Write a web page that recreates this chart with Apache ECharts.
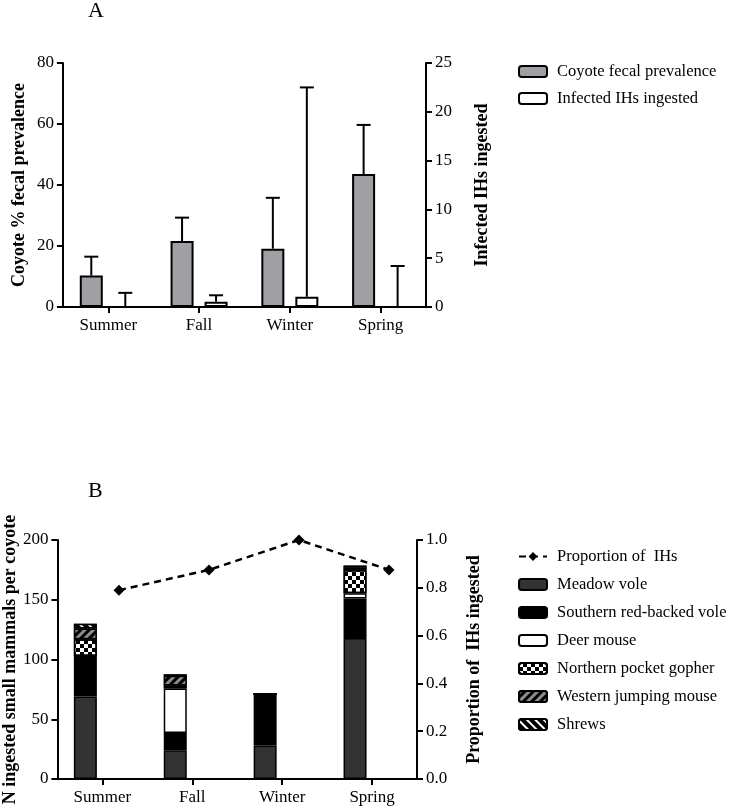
<!DOCTYPE html>
<html>
<head>
<meta charset="utf-8">
<script src="https://cdn.jsdelivr.net/npm/echarts@6/dist/echarts.min.js"></script>
<style>
  html, body { margin: 0; padding: 0; background: #fff; }
  #chart { width: 730px; height: 809px; }
</style>
</head>
<body>
<div id="chart"></div>
<script>
// panel A
const seasons = ['Summer', 'Fall', 'Winter', 'Spring']
const fecalPrevalence = [10.3, 21.6, 19.1, 43.6]
const fecalPrevalenceErr = [6.2, 7.7, 16.7, 16.1]
const infectedIH = [0, 0.55, 1.05, 0]
const infectedIHErr = [1.45, 0.65, 21.45, 4.2]

// panel B
const meadowVole = [69, 24, 28, 118]
const redBackedVole = [34, 14.5, 43, 33]
const deerMouse = [0, 37.3, 0, 4.5]
const pocketGopher = [14, 2.5, 0, 19.5]
const jumpingMouse = [9, 8, 0, 2]
const shrews = [4, 1.3, 0, 1.6]
const propIH = [0.79, 0.875, 1.0, 0.875]

const FONT = 'Liberation Serif'
const BAR_W = 23
const BAR_GAP = 11
const OFF = (BAR_W + BAR_GAP) / 2
const CAP = 7

const chart = echarts.init(document.getElementById('chart'))

const axisLine = { show: true, lineStyle: { color: '#000', width: 2 } }
const axisTick = { show: true, length: 6, lineStyle: { color: '#000', width: 2 } }
const axisLabel = { color: '#000', fontFamily: FONT, fontSize: 17 }
const nameStyle = { color: '#000', fontFamily: FONT, fontSize: 18, fontWeight: 'bold' }
const legendText = { color: '#000', fontFamily: FONT, fontSize: 16.5, padding: [0, 0, 0, 5] }

const errRender = (offset) => (params, api) => {
  const i = api.value(0)
  const v = api.value(1)
  const e = api.value(2)
  const p0 = api.coord([i, v])
  const p1 = api.coord([i, v + e])
  const x = p0[0] + offset
  const style = { stroke: '#000', lineWidth: 2 }
  return {
    type: 'group',
    children: [
      { type: 'line', shape: { x1: x, y1: p0[1], x2: x, y2: p1[1] }, style },
      { type: 'line', shape: { x1: x - CAP, y1: p1[1], x2: x + CAP, y2: p1[1] }, style },
    ],
  }
}

const segStyle = (color, decal) => {
  const s = { color, borderColor: '#000', borderWidth: 1.5 }
  if (decal) s.decal = decal
  return s
}

const checker = {
  color: '#000', symbol: 'rect', symbolSize: 1,
  dashArrayX: [[4, 4], [0, 4, 4, 0]], dashArrayY: [4, 0],
}
const grayStripes = {
  color: '#8c8c8c', symbol: 'rect', symbolSize: 1,
  dashArrayX: [1, 0], dashArrayY: [3, 3], rotation: -Math.PI / 4,
}
const whiteStripes = {
  color: '#fff', symbol: 'rect', symbolSize: 1,
  dashArrayX: [1, 0], dashArrayY: [2, 4], rotation: Math.PI / 4,
}

const stackSeries = [
  ['Meadow vole', meadowVole, segStyle('#333333')],
  ['Southern red-backed vole', redBackedVole, segStyle('#000000')],
  ['Deer mouse', deerMouse, segStyle('#ffffff')],
  ['Northern pocket gopher', pocketGopher, segStyle('#ffffff', checker)],
  ['Western jumping mouse', jumpingMouse, segStyle('#000000', grayStripes)],
  ['Shrews', shrews, segStyle('#000000', whiteStripes)],
].map(([name, data, itemStyle]) => ({
  name,
  type: 'bar',
  xAxisIndex: 1,
  yAxisIndex: 2,
  stack: 'mammals',
  barWidth: BAR_W,
  barGap: `${(BAR_GAP / BAR_W) * 100}%`,
  itemStyle,
  data,
}))

const option = {
  animation: false,
  backgroundColor: '#fff',
  graphic: [
    { type: 'text', left: 88, top: 0, style: { text: 'A', font: '22px "Liberation Serif"', fill: '#000' } },
    { type: 'text', left: 88, top: 480, style: { text: 'B', font: '22px "Liberation Serif"', fill: '#000' } },
  ],
  legend: [
    {
      left: 513, top: 58, orient: 'vertical', itemWidth: 28, itemHeight: 11, itemGap: 10,
      icon: 'roundRect',
      itemStyle: { borderColor: '#000', borderWidth: 2 },
      textStyle: legendText,
      data: ['Coyote fecal prevalence', 'Infected IHs ingested'],
    },
    {
      left: 513, top: 543, orient: 'vertical', itemWidth: 28, itemHeight: 11, itemGap: 11,
      textStyle: legendText,
      data: [
        { name: 'Proportion of  IHs' },
        ...stackSeries.map((s) => ({ name: s.name, icon: 'roundRect', itemStyle: { borderColor: '#000', borderWidth: 2 } })),
      ],
    },
  ],
  grid: [
    { left: 57, right: 304, top: 63, bottom: 502 },
    { left: 57, right: 313, top: 540, bottom: 30 },
    { left: 57 + OFF, right: 313 - OFF, top: 540, bottom: 30 },
  ],
  xAxis: [
    {
      type: 'category', gridIndex: 0, data: seasons,
      axisLine, axisTick: { ...axisTick, alignWithLabel: true }, axisLabel: { ...axisLabel, margin: 10 },
    },
    {
      type: 'category', gridIndex: 1, data: seasons,
      axisLine, axisTick: { ...axisTick, alignWithLabel: true }, axisLabel: { ...axisLabel, margin: 10 },
    },
    { type: 'category', gridIndex: 2, data: seasons, show: false },
  ],
  yAxis: [
    {
      type: 'value', gridIndex: 0, min: 0, max: 80, interval: 20,
      name: 'Coyote % fecal prevalence', nameLocation: 'middle', nameGap: 35, nameTextStyle: nameStyle,
      axisLine, axisTick, axisLabel: { ...axisLabel, margin: 9 }, splitLine: { show: false },
    },
    {
      type: 'value', gridIndex: 0, min: 0, max: 25, interval: 5, position: 'right',
      name: 'Infected IHs ingested', nameLocation: 'middle', nameGap: 47, nameTextStyle: nameStyle,
      axisLine, axisTick, axisLabel: { ...axisLabel, margin: 9 }, splitLine: { show: false },
    },
    {
      type: 'value', gridIndex: 1, min: 0, max: 200, interval: 50,
      name: 'N ingested small mammals per coyote', nameLocation: 'middle', nameGap: 36, nameTextStyle: nameStyle,
      axisLine, axisTick, axisLabel: { ...axisLabel, margin: 9 }, splitLine: { show: false },
    },
    {
      type: 'value', gridIndex: 1, min: 0, max: 1, interval: 0.2, position: 'right',
      name: 'Proportion of  IHs ingested', nameLocation: 'middle', nameGap: 48, nameTextStyle: nameStyle,
      axisLine, axisTick, axisLabel: { ...axisLabel, margin: 9, formatter: (v) => v.toFixed(1) }, splitLine: { show: false },
    },
    { type: 'value', gridIndex: 2, min: 0, max: 1, show: false },
  ],
  series: [
    {
      name: 'Coyote fecal prevalence', type: 'bar', xAxisIndex: 0, yAxisIndex: 0,
      barWidth: BAR_W, barGap: `${(BAR_GAP / BAR_W) * 100}%`,
      itemStyle: { color: '#a0a0a4', borderColor: '#000', borderWidth: 2 },
      data: fecalPrevalence,
    },
    {
      name: 'Infected IHs ingested', type: 'bar', xAxisIndex: 0, yAxisIndex: 1,
      barWidth: BAR_W,
      itemStyle: { color: '#fff', borderColor: '#000', borderWidth: 2 },
      data: infectedIH,
    },
    {
      type: 'custom', xAxisIndex: 0, yAxisIndex: 0, z: 5,
      renderItem: errRender(-OFF),
      data: fecalPrevalence.map((v, i) => [i, v, fecalPrevalenceErr[i]]),
    },
    {
      type: 'custom', xAxisIndex: 0, yAxisIndex: 1, z: 5,
      renderItem: errRender(OFF),
      data: infectedIH.map((v, i) => [i, v, infectedIHErr[i]]),
    },
    ...stackSeries,
    {
      type: 'bar', xAxisIndex: 1, yAxisIndex: 2, stack: 'spacer', barWidth: BAR_W,
      itemStyle: { color: 'transparent', borderWidth: 0 },
      data: seasons.map(() => 0),
    },
    {
      name: 'Proportion of  IHs', type: 'line', xAxisIndex: 2, yAxisIndex: 4,
      symbol: 'diamond', symbolSize: 11,
      itemStyle: { color: '#000' },
      lineStyle: { color: '#000', width: 2.5, type: [7, 5] },
      data: propIH,
    },
  ],
}

chart.setOption(option)
</script>
</body>
</html>
